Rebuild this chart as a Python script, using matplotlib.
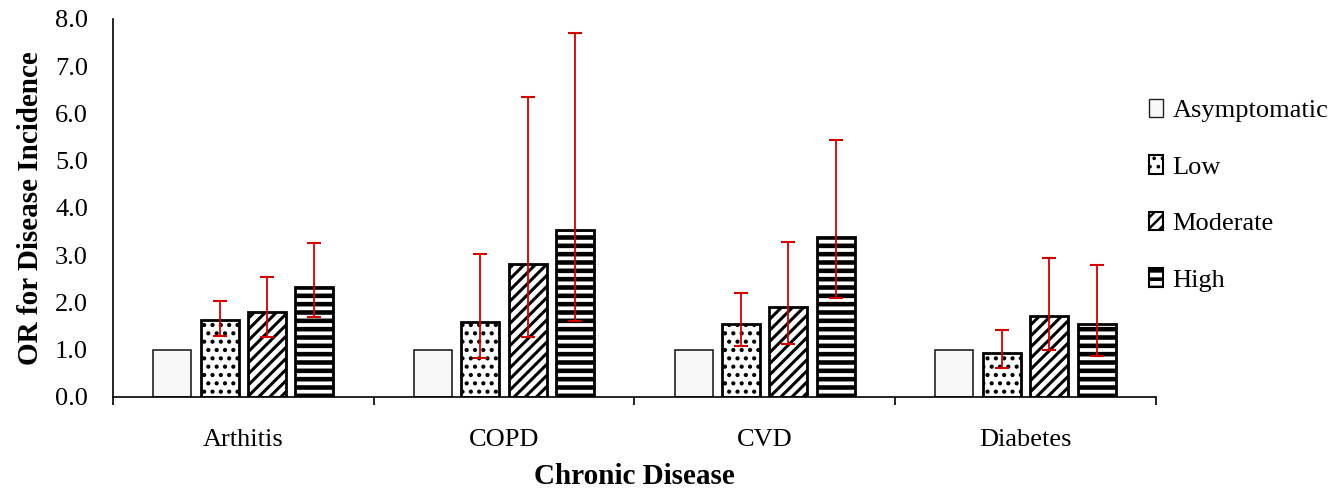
import numpy as np
import matplotlib.pyplot as plt
from matplotlib.patches import Patch

plt.rcParams['font.family'] = ['Liberation Serif', 'DejaVu Serif']

# data (odds ratio with 95% CI)
diseases = ['Arthitis', 'COPD', 'CVD', 'Diabetes']
groups = ['Asymptomatic', 'Low', 'Moderate', 'High']

or_asym = [1.0, 1.0, 1.0, 1.0]
or_low = [1.62, 1.59, 1.55, 0.92]
or_mod = [1.79, 2.82, 1.91, 1.71]
or_high = [2.33, 3.52, 3.38, 1.55]

ci_low_lo = [1.29, 0.82, 1.08, 0.61]
ci_low_hi = [2.03, 3.03, 2.20, 1.41]
ci_mod_lo = [1.26, 1.26, 1.11, 1.00]
ci_mod_hi = [2.53, 6.35, 3.27, 2.93]
ci_high_lo = [1.68, 1.61, 2.09, 0.86]
ci_high_hi = [3.26, 7.69, 5.44, 2.80]

fig = plt.figure(figsize=(13.44, 4.93), dpi=100)
ax = fig.add_axes([0.084, 0.195, 0.776, 0.767])

x = np.arange(len(diseases))
step = 0.182
width = 0.146

# hatch pattern + hatch line width (points) per non-reference group
hatches = ['..', '///', '--']
hatch_lw = [1.8, 2.2, 3.3]

# asymptomatic reference bars
ax.bar(x - 1.5 * step, or_asym, width, color='#f8f8f8', edgecolor='#222222',
       linewidth=1.2, label=groups[0], zorder=2)

series = [(or_low, ci_low_lo, ci_low_hi),
          (or_mod, ci_mod_lo, ci_mod_hi),
          (or_high, ci_high_lo, ci_high_hi)]

for i, (vals, lo, hi) in enumerate(series):
    pos = x + (i - 0.5) * step
    vals = np.array(vals)
    plt.rcParams['hatch.linewidth'] = hatch_lw[i]
    ax.bar(pos, vals, width, color='white', edgecolor='black', hatch=hatches[i],
           linewidth=2.0, label=groups[i + 1], zorder=2)
    err = [vals - np.array(lo), np.array(hi) - vals]
    ax.errorbar(pos, vals, yerr=err, fmt='none', ecolor='#d40000',
                elinewidth=1.3, capsize=4.8, capthick=1.5, zorder=3)

ax.set_xlim(-0.5, len(diseases) - 0.5)
ax.set_ylim(0, 8)
ax.set_yticks(np.arange(0, 8.1, 1.0))
ax.set_yticklabels(['%.1f' % v for v in np.arange(0, 8.1, 1.0)])
ax.tick_params(axis='y', length=0, pad=18, labelsize=19)

# boundary ticks between categories, labels at the centres
ax.set_xticks(np.arange(-0.5, len(diseases), 1.0))
ax.set_xticklabels([])
ax.set_xticks(x, minor=True)
ax.set_xticklabels(diseases, minor=True)
ax.tick_params(axis='x', which='major', length=6, width=1.2, direction='out')
ax.tick_params(axis='x', which='minor', length=0, pad=23, labelsize=19)

for s in ['top', 'right']:
    ax.spines[s].set_visible(False)
ax.spines['left'].set_linewidth(1.2)
ax.spines['bottom'].set_linewidth(1.2)

ax.set_ylabel('OR for Disease Incidence', fontsize=21, fontweight='bold', labelpad=8)
ax.set_xlabel('Chronic Disease', fontsize=21, fontweight='bold', labelpad=9)

handles = [Patch(facecolor='#f8f8f8', edgecolor='#222222', linewidth=1.0)]
for i in range(3):
    handles.append(Patch(facecolor='white', edgecolor='black', hatch=hatches[i],
                         linewidth=1.5))
plt.rcParams['hatch.linewidth'] = 1.8
leg = fig.legend(handles, groups, loc='upper left', bbox_to_anchor=(0.837, 0.848),
                 frameon=False, fontsize=19, handlelength=0.55, handleheight=0.7,
                 handletextpad=0.35, labelspacing=1.25)
for p, lw in zip(leg.get_patches()[1:], hatch_lw):
    if hasattr(p, 'set_hatch_linewidth'):
        p.set_hatch_linewidth(lw * 0.8)

fig.savefig('out.png', dpi=100)
